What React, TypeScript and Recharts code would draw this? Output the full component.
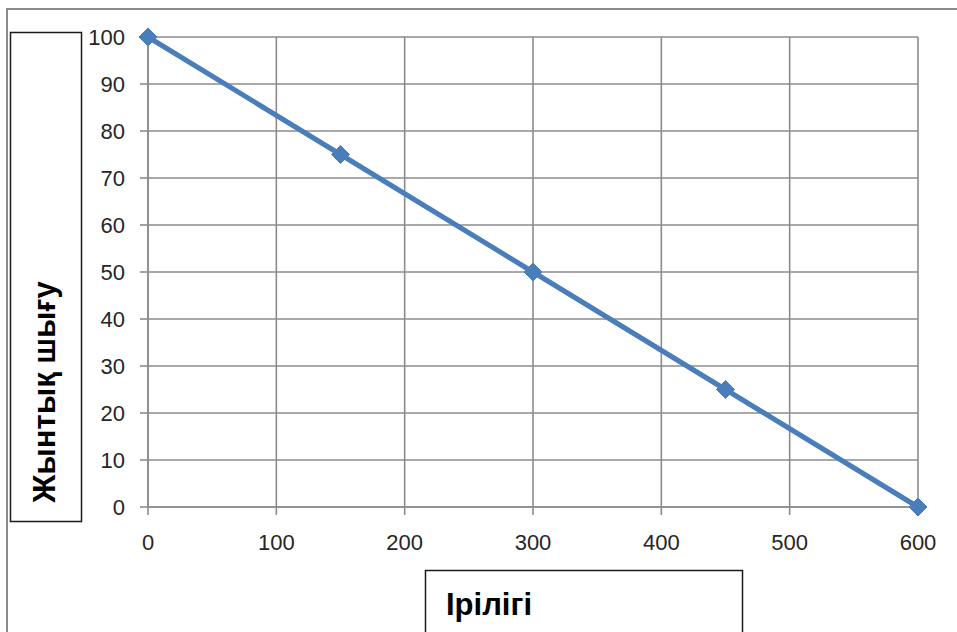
import React from 'react';
import { LineChart, Line, XAxis, YAxis, CartesianGrid } from 'recharts';

// grain size vs cumulative yield
const sizes = [0, 150, 300, 450, 600];
const yieldPct = [100, 75, 50, 25, 0];
const xTicks = [0, 100, 200, 300, 400, 500, 600];
const yTicks = [0, 10, 20, 30, 40, 50, 60, 70, 80, 90, 100];

const yLabel = 'Жынтық шығу';
const xLabel = 'Ірілігі';

const data = sizes.map((s, i) => ({ size: s, value: yieldPct[i] }));

const gridColor = '#8c8c8c';
const lineColor = '#4a7ebb';
const tickFont = { fontFamily: '"Liberation Sans", Arial, sans-serif', fontSize: 22, fill: '#262626' };

const Diamond = (props: any) => {
  const { cx, cy } = props;
  if (cx == null || cy == null) return null;
  const r = 9;
  return (
    <path
      d={`M${cx},${cy - r} L${cx + r},${cy} L${cx},${cy + r} L${cx - r},${cy} Z`}
      fill={lineColor}
      stroke={lineColor}
      strokeWidth={1}
    />
  );
};

export default function App() {
  return (
    <div style={{ position: 'absolute', left: 0, top: 0, width: 957, height: 632, background: '#fff', overflow: 'hidden' }}>
      {/* outer chart frame, cut off at right and bottom */}
      <div
        style={{
          position: 'absolute',
          left: 6,
          top: 8,
          width: 1000,
          height: 700,
          borderTop: '2px solid #8c8c8c',
          borderLeft: '2px solid #8c8c8c',
        }}
      />
      <div style={{ position: 'absolute', left: 0, top: 0 }}>
        <LineChart width={957} height={632} data={data} margin={{ top: 37, right: 39, bottom: 95, left: 88 }}>
          <CartesianGrid stroke={gridColor} strokeWidth={1.6} />
          <XAxis
            dataKey="size"
            type="number"
            domain={[0, 600]}
            ticks={xTicks}
            height={30}
            tick={tickFont}
            tickSize={8}
            tickMargin={19}
            axisLine={{ stroke: gridColor, strokeWidth: 1.6 }}
            tickLine={{ stroke: gridColor, strokeWidth: 1.6 }}
          />
          <YAxis
            type="number"
            domain={[0, 100]}
            ticks={yTicks}
            width={60}
            tick={tickFont}
            tickSize={8}
            tickMargin={15}
            axisLine={{ stroke: gridColor, strokeWidth: 1.6 }}
            tickLine={{ stroke: gridColor, strokeWidth: 1.6 }}
          />
          <Line
            dataKey="value"
            stroke={lineColor}
            strokeWidth={5}
            dot={<Diamond />}
            activeDot={false}
            isAnimationActive={false}
          />
        </LineChart>
      </div>
      {/* axis title boxes */}
      <svg style={{ position: 'absolute', left: 0, top: 0 }} width={957} height={632}>
        <rect x={10.5} y={32.5} width={71} height={489} fill="#fff" stroke="#1a1a1a" strokeWidth={1.5} />
        <text
          transform="translate(55,392) rotate(-90)"
          textAnchor="middle"
          fontFamily='"Liberation Sans", Arial, sans-serif'
          fontWeight="bold"
          fontSize={31}
          fill="#000"
        >
          {yLabel}
        </text>
        <rect x={425.5} y={570.5} width={317} height={80} fill="#fff" stroke="#1a1a1a" strokeWidth={1.5} />
        <text
          x={446}
          y={615}
          fontFamily='"Liberation Sans", Arial, sans-serif'
          fontWeight="bold"
          fontSize={31}
          fill="#000"
        >
          {xLabel}
        </text>
      </svg>
    </div>
  );
}
